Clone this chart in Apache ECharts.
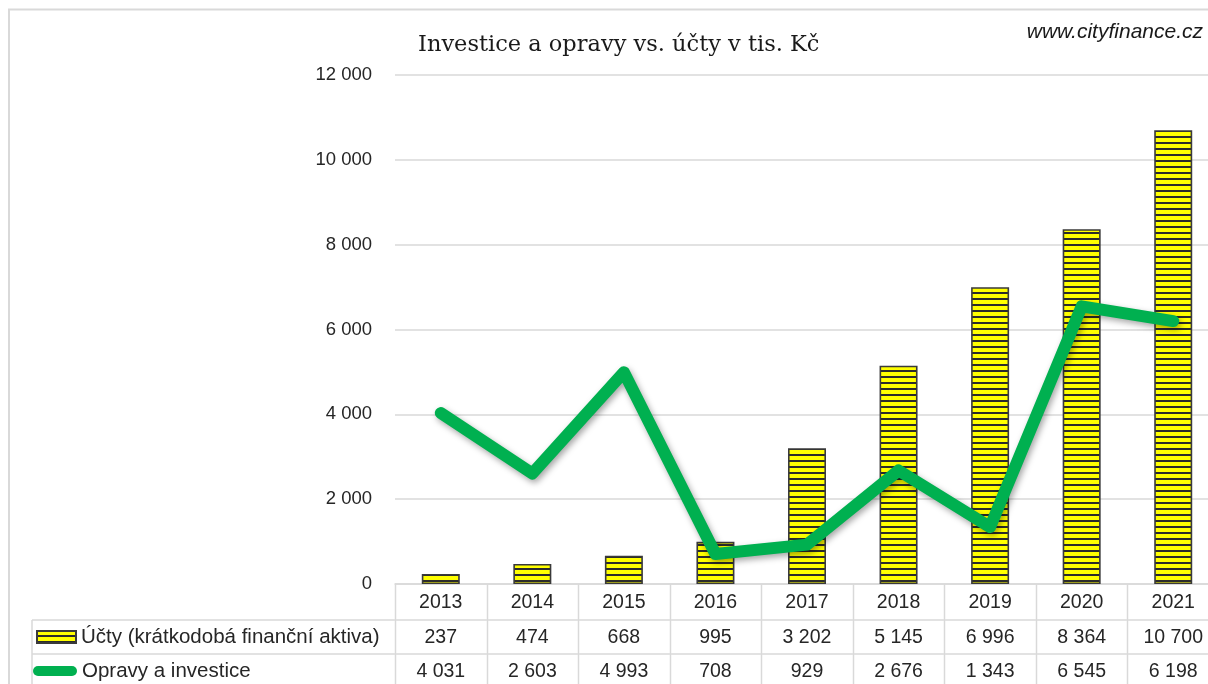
<!DOCTYPE html>
<html lang="cs">
<head>
    <meta charset="UTF-8">
    <title>Investice a opravy vs. účty</title>
    <script src="https://cdn.jsdelivr.net/npm/echarts@6/dist/echarts.min.js"></script>
    <style>
        html, body { margin: 0; padding: 0; background: #fff; overflow: hidden; }
        #chart { width: 1219px; height: 684px; }
    </style>
</head>
<body>
    <div id="chart"></div>
    <script>
        // data
        const years = ['2013', '2014', '2015', '2016', '2017', '2018', '2019', '2020', '2021'];
        const ucty = [237, 474, 668, 995, 3202, 5145, 6996, 8364, 10700];
        const opravy = [4031, 2603, 4993, 708, 929, 2676, 1343, 6545, 6198];
        const yTicks = [0, 2000, 4000, 6000, 8000, 10000, 12000];

        const fmt = v => String(v).replace(/\B(?=(\d{3})+(?!\d))/g, ' ');
        const font = 'Liberation Sans';
        const gridCol = '#d9d9d9';
        const txtCol = '#262626';
        const nameBar = 'Účty (krátkodobá finanční aktiva)';
        const nameLine = 'Opravy a investice';

        // yellow bar fill with black horizontal stripes
        const pat = document.createElement('canvas');
        pat.width = 8; pat.height = 6;
        const pc = pat.getContext('2d');
        pc.fillStyle = '#ffff00';
        pc.fillRect(0, 0, 8, 6);
        pc.fillStyle = '#2b2b2b';
        pc.fillRect(0, 4, 8, 2);

        let chart = echarts.init(document.getElementById('chart'));

        const tableAxis = (vals, off) => ({
            type: 'category',
            data: vals.map(fmt),
            position: 'bottom',
            offset: off,
            axisLine: { show: false },
            axisTick: { show: false },
            axisLabel: { fontFamily: font, fontSize: 19.5, color: txtCol, margin: 9 }
        });

        const legendText = { fontFamily: font, fontSize: 20.5, color: txtCol, lineHeight: 24 };

        let option = {
            animation: false,
            title: {
                text: 'Investice a opravy vs. účty v tis. Kč',
                left: 413, top: 29,
                textStyle: { fontFamily: 'DejaVu Serif', fontWeight: 'normal', fontSize: 22.5, color: '#1a1a1a' }
            },
            // one legend per table row
            legend: [
                {
                    left: 36, top: 625, padding: 0,
                    itemWidth: 39, itemHeight: 12,
                    textStyle: legendText,
                    data: [{ name: nameBar, icon: 'rect' }]
                },
                {
                    left: 33, top: 659, padding: 0,
                    itemWidth: 44, itemHeight: 10,
                    textStyle: legendText,
                    data: [{
                        name: nameLine,
                        icon: 'path://M5,0 L39,0 A5,5 0 0 1 39,10 L5,10 A5,5 0 0 1 5,0 Z',
                        itemStyle: { color: '#00b050', borderWidth: 0 }
                    }]
                }
            ],
            grid: { left: 395, top: 75, right: 0, height: 509 },
            xAxis: [
                {
                    type: 'category',
                    data: years,
                    axisLine: { lineStyle: { color: gridCol, width: 1.5 } },
                    axisTick: { show: false },
                    axisLabel: { fontFamily: font, fontSize: 19.5, color: txtCol, margin: 9 }
                },
                tableAxis(ucty, 35),
                tableAxis(opravy, 69)
            ],
            yAxis: {
                type: 'value',
                min: yTicks[0], max: yTicks[yTicks.length - 1], interval: 2000,
                axisLine: { show: false },
                axisTick: { show: false },
                axisLabel: { fontFamily: font, fontSize: 18.5, color: txtCol, margin: 23, formatter: v => fmt(v) },
                splitLine: { lineStyle: { color: gridCol, width: 1.5 } }
            },
            series: [
                {
                    name: nameBar,
                    type: 'bar',
                    data: ucty,
                    barWidth: 38,
                    itemStyle: { color: { image: pat, repetition: 'repeat' }, borderColor: '#3a3a3a', borderWidth: 1.6 }
                },
                {
                    name: nameLine,
                    type: 'line',
                    data: opravy,
                    showSymbol: false,
                    symbol: 'none',
                    itemStyle: { color: '#00b050' },
                    lineStyle: {
                        color: '#00b050', width: 12, cap: 'round', join: 'round',
                        shadowColor: 'rgba(0,0,0,0.35)', shadowBlur: 6, shadowOffsetX: 2, shadowOffsetY: 3
                    }
                }
            ]
        };
        chart.setOption(option);

        // table borders: column lines at category boundaries
        const c0 = chart.convertToPixel({ xAxisIndex: 0 }, 0);
        const c1 = chart.convertToPixel({ xAxisIndex: 0 }, 1);
        const band = c1 - c0;
        const g = [
            { type: 'rect', shape: { x: 9, y: 9.5, width: 1400, height: 900 }, style: { fill: 'none', stroke: gridCol, lineWidth: 2 } },
            { type: 'line', shape: { x1: 32, y1: 620, x2: 1219, y2: 620 }, style: { stroke: gridCol, lineWidth: 1.5 } },
            { type: 'line', shape: { x1: 32, y1: 654, x2: 1219, y2: 654 }, style: { stroke: gridCol, lineWidth: 1.5 } },
            { type: 'line', shape: { x1: 32, y1: 620, x2: 32, y2: 684 }, style: { stroke: gridCol, lineWidth: 1.5 } },
            {
                type: 'text', x: 1203, y: 32,
                style: { text: 'www.cityfinance.cz', fontFamily: font, fontStyle: 'italic', fontSize: 21, fill: '#1a1a1a', align: 'right', verticalAlign: 'middle' }
            }
        ];
        for (let i = 0; i <= years.length; i++) {
            const x = Math.round(c0 - band / 2 + i * band) + 0.5;
            g.push({ type: 'line', shape: { x1: x, y1: 584, x2: x, y2: 684 }, style: { stroke: gridCol, lineWidth: 1.5 } });
        }
        chart.setOption({ graphic: g });
    </script>
</body>
</html>
